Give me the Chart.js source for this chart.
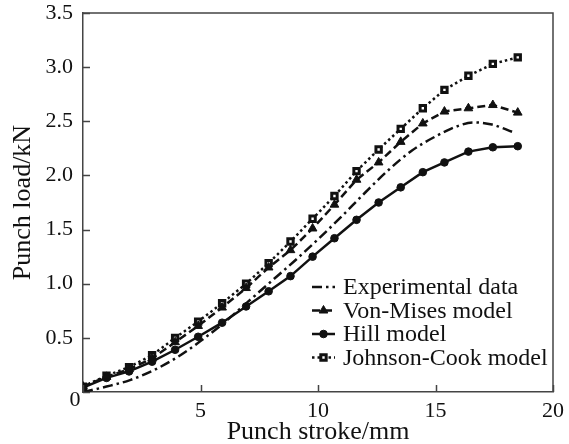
<!DOCTYPE html>
<html>
<head>
<meta charset="utf-8">
<script src="https://cdn.jsdelivr.net/npm/chart.js@4.4.0/dist/chart.umd.min.js"></script>
<style>
  body { margin: 0; background: #fff; }
  #wrap { width: 569px; height: 444px; }
</style>
</head>
<body>
<div id="wrap"><canvas id="punchChart" width="569" height="444"></canvas></div>
<script>
// punch stroke (mm) of the simulated points, shared by the three models
const strokeModel = [0, 1.0, 1.96, 2.94, 3.92, 4.9, 5.92, 6.94, 7.9, 8.83, 9.77, 10.7, 11.64, 12.58, 13.52, 14.46, 15.38, 16.4, 17.44, 18.5];
// punch load (kN)
const vonMises = [0.05, 0.14, 0.21, 0.31, 0.46, 0.61, 0.78, 0.96, 1.15, 1.31, 1.51, 1.73, 1.96, 2.12, 2.31, 2.48, 2.59, 2.62, 2.65, 2.58];
const hill = [0.04, 0.13, 0.19, 0.28, 0.39, 0.51, 0.64, 0.79, 0.93, 1.07, 1.25, 1.42, 1.59, 1.75, 1.89, 2.03, 2.12, 2.22, 2.26, 2.27];
const johnsonCook = [0.05, 0.15, 0.23, 0.34, 0.50, 0.65, 0.82, 1.0, 1.19, 1.39, 1.60, 1.81, 2.04, 2.24, 2.43, 2.62, 2.79, 2.92, 3.03, 3.09];
// experimental curve
const strokeExp = [0, 1, 2, 3, 4, 5, 6, 7, 8, 9, 10, 11, 12, 13, 14, 15, 16, 16.6, 17.4, 18.3];
const experimental = [0, 0.05, 0.11, 0.2, 0.32, 0.47, 0.64, 0.83, 1.02, 1.21, 1.41, 1.62, 1.84, 2.05, 2.23, 2.36, 2.46, 2.49, 2.47, 2.40];

const seriesNames = ["Experimental data", "Von-Mises model", "Hill model", "Johnson-Cook model"];

function toPoints(xs, ys){
    return ys.map((y, i) => ({x: xs[i], y: y}));
}

const ink = "#111";
const axisColor = "#444";
Chart.defaults.font.family = '"Liberation Serif", "Times New Roman", serif';
Chart.defaults.color = ink;

// frame, inward ticks, origin label and legend drawn inside the plot
const framePlugin = {
    id: "frame",
    afterDraw(chart){
        const ctx = chart.ctx;
        const a = chart.chartArea;
        const xs = chart.scales.x, ys = chart.scales.y;
        ctx.save();
        ctx.strokeStyle = axisColor;
        ctx.lineWidth = 1.5;
        ctx.setLineDash([]);
        ctx.beginPath();
        ctx.moveTo(a.left, a.top);
        ctx.lineTo(a.right, a.top);
        ctx.lineTo(a.right, a.bottom);
        ctx.stroke();

        // ticks pointing into the plot
        ctx.beginPath();
        xs.ticks.forEach(t => {
            const px = Math.round(xs.getPixelForValue(t.value)) + 0.5;
            ctx.moveTo(px, a.bottom);
            ctx.lineTo(px, a.bottom - 7);
        });
        ys.ticks.forEach(t => {
            const py = Math.round(ys.getPixelForValue(t.value)) + 0.5;
            ctx.moveTo(a.left, py);
            ctx.lineTo(a.left + 7, py);
        });
        ctx.stroke();

        ctx.fillStyle = ink;
        ctx.font = '22px "Liberation Serif"';
        ctx.textAlign = "center";
        ctx.textBaseline = "middle";
        ctx.fillText("0", xs.getPixelForValue(0) - 8, ys.getPixelForValue(0) + 8);

        // legend
        const x0 = a.left + 229, y0 = a.bottom - 105, rowH = 23.5;
        ctx.font = '24px "Liberation Serif"';
        ctx.textAlign = "left";
        chart.data.datasets.forEach((ds, i) => {
            const y = y0 + i * rowH;
            ctx.strokeStyle = ds.borderColor;
            ctx.lineWidth = ds.borderWidth;
            ctx.setLineDash(ds.borderDash || []);
            ctx.beginPath();
            ctx.moveTo(x0, y);
            ctx.lineTo(x0 + 23, y);
            ctx.stroke();
            ctx.setLineDash([]);
            if(ds.pointRadius > 0){
                ctx.fillStyle = ds.pointBackgroundColor;
                ctx.strokeStyle = ds.pointBorderColor;
                ctx.lineWidth = ds.pointBorderWidth;
                Chart.helpers.drawPoint(ctx, {pointStyle: ds.pointStyle, radius: ds.pointRadius, borderWidth: ds.pointBorderWidth, rotation: 0}, x0 + 11.5, y);
            }
            ctx.fillStyle = ink;
            ctx.fillText(ds.label, x0 + 31, y + 1);
        });
        ctx.restore();
    }
};

new Chart("punchChart", {
    type: "line",
    data: {
        datasets: [
            {
                label: seriesNames[0],
                data: toPoints(strokeExp, experimental),
                borderColor: ink, borderWidth: 2.5,
                borderDash: [10, 4, 2.5, 4],
                pointRadius: 0,
                cubicInterpolationMode: "monotone"
            },
            {
                label: seriesNames[1],
                data: toPoints(strokeModel, vonMises),
                borderColor: ink, borderWidth: 2.5,
                borderDash: [8, 4],
                pointStyle: "triangle", pointRadius: 5,
                pointBackgroundColor: ink, pointBorderColor: ink, pointBorderWidth: 1
            },
            {
                label: seriesNames[2],
                data: toPoints(strokeModel, hill),
                borderColor: ink, borderWidth: 2.5,
                pointStyle: "circle", pointRadius: 3.8,
                pointBackgroundColor: ink, pointBorderColor: ink, pointBorderWidth: 1
            },
            {
                label: seriesNames[3],
                data: toPoints(strokeModel, johnsonCook),
                borderColor: ink, borderWidth: 2.5,
                borderDash: [2.5, 3],
                pointStyle: "rect", pointRadius: 3.8,
                pointBackgroundColor: "#fff", pointBorderColor: ink, pointBorderWidth: 3
            }
        ]
    },
    options: {
        responsive: false,
        animation: false,
        layout: { padding: { top: 13, right: 16, left: 0, bottom: 0 } },
        plugins: {
            legend: { display: false },
            tooltip: { enabled: false }
        },
        scales: {
            x: {
                type: "linear",
                min: 0, max: 20,
                afterFit(scale){
                    scale.height = 52;
                    scale.paddingLeft = 0;
                    scale.paddingRight = 0;
                },
                ticks: {
                    stepSize: 5,
                    padding: 6,
                    font: { size: 22 },
                    color: ink,
                    maxRotation: 0,
                    callback: (v) => v === 0 ? "" : v
                },
                grid: { display: false, drawTicks: false },
                border: { color: axisColor, width: 1.5 },
                title: {
                    display: true,
                    text: "Punch stroke/mm",
                    font: { size: 26, lineHeight: 1 },
                    color: ink,
                    padding: { top: 0, bottom: -1 }
                }
            },
            y: {
                min: 0, max: 3.5,
                afterFit(scale){
                    scale.width = 83;
                    scale.paddingTop = 0;
                    scale.paddingBottom = 0;
                },
                ticks: {
                    stepSize: 0.5,
                    padding: 10,
                    font: { size: 22 },
                    color: ink,
                    callback: (v) => v === 0 ? "" : v.toFixed(1)
                },
                grid: { display: false, drawTicks: false },
                border: { color: axisColor, width: 1.5 },
                title: {
                    display: true,
                    text: "Punch load/kN",
                    font: { size: 26, lineHeight: 1 },
                    color: ink,
                    padding: { top: 10, bottom: 0 }
                }
            }
        }
    },
    plugins: [framePlugin]
});
</script>
</body>
</html>
